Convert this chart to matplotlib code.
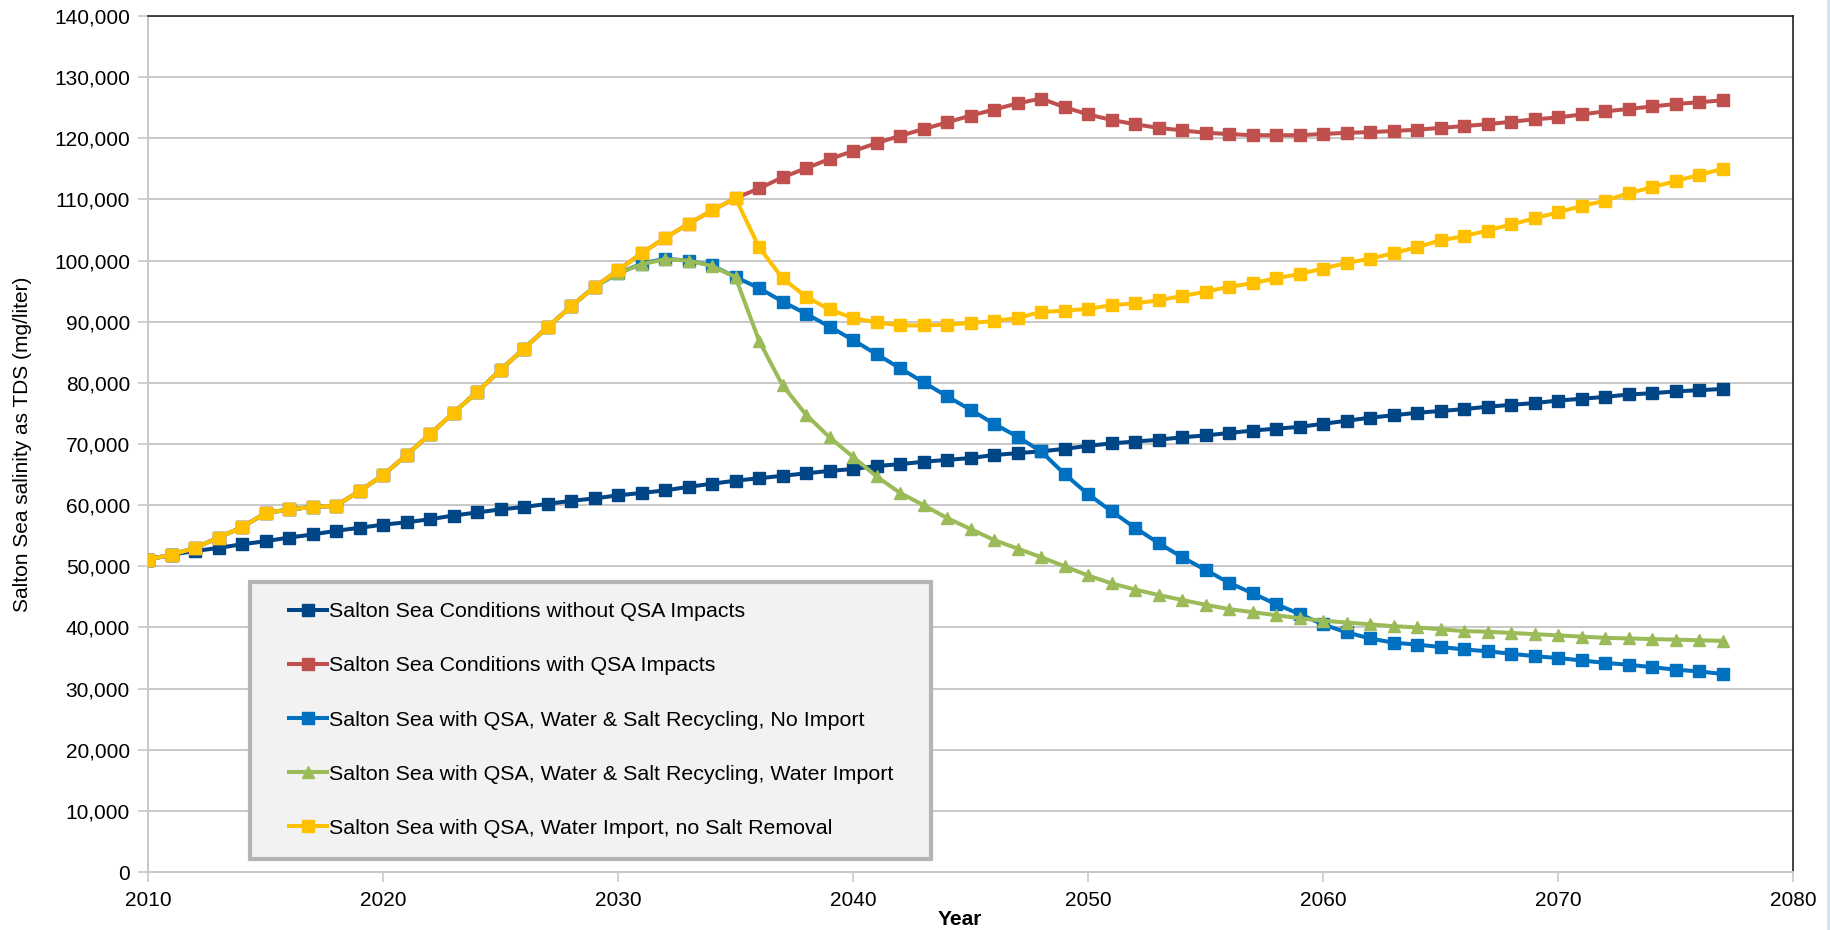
import numpy as np
import matplotlib
matplotlib.use("Agg")
import matplotlib.pyplot as plt
from matplotlib.patches import Rectangle
from matplotlib.ticker import FuncFormatter, MultipleLocator

plt.rcParams['font.family'] = ['Liberation Sans', 'DejaVu Sans']

years = np.arange(2010, 2078)

# salinity in thousands of mg/liter
no_qsa_k = [51.1, 51.9, 52.5, 53.0, 53.6, 54.1, 54.7, 55.2, 55.8, 56.3,
            56.8, 57.2, 57.7, 58.3, 58.8, 59.3, 59.7, 60.2, 60.7, 61.1,
            61.6, 62.0, 62.4, 63.0, 63.5, 64.0, 64.4, 64.8, 65.2, 65.6,
            65.9, 66.4, 66.7, 67.1, 67.4, 67.7, 68.2, 68.5, 68.8, 69.2,
            69.7, 70.1, 70.4, 70.7, 71.1, 71.4, 71.8, 72.2, 72.5, 72.8,
            73.3, 73.8, 74.3, 74.7, 75.1, 75.4, 75.7, 76.1, 76.4, 76.7,
            77.1, 77.4, 77.7, 78.1, 78.3, 78.6, 78.8, 79.0]

with_qsa_k = [51.1, 51.9, 53.0, 54.7, 56.4, 58.7, 59.3, 59.7, 59.9, 62.3,
              64.9, 68.2, 71.6, 75.1, 78.5, 82.1, 85.6, 89.1, 92.5, 95.7,
              98.4, 101.2, 103.7, 106.0, 108.2, 110.2, 111.8, 113.6, 115.1, 116.6,
              117.9, 119.2, 120.4, 121.5, 122.6, 123.7, 124.7, 125.7, 126.5, 125.1,
              123.9, 123.0, 122.3, 121.7, 121.3, 120.9, 120.7, 120.5, 120.5, 120.5,
              120.7, 120.9, 121.0, 121.2, 121.4, 121.7, 122.0, 122.3, 122.7, 123.1,
              123.4, 123.9, 124.4, 124.8, 125.2, 125.6, 125.9, 126.2]

recycle_no_import_k = [51.1, 51.9, 53.0, 54.7, 56.4, 58.7, 59.3, 59.7, 59.9, 62.3,
                       64.9, 68.2, 71.6, 75.1, 78.5, 82.1, 85.6, 89.1, 92.5, 95.7,
                       97.9, 99.5, 100.3, 100.0, 99.2, 97.3, 95.5, 93.3, 91.3, 89.2,
                       87.0, 84.7, 82.4, 80.1, 77.8, 75.6, 73.3, 71.2, 68.8, 65.1,
                       61.8, 59.0, 56.3, 53.8, 51.5, 49.4, 47.3, 45.6, 43.8, 42.2,
                       40.5, 39.2, 38.2, 37.5, 37.2, 36.8, 36.4, 36.1, 35.7, 35.3,
                       35.0, 34.6, 34.2, 33.9, 33.5, 33.1, 32.8, 32.4]

recycle_import_k = [51.1, 51.9, 53.0, 54.7, 56.4, 58.7, 59.3, 59.7, 59.9, 62.3,
                    64.9, 68.2, 71.6, 75.1, 78.5, 82.1, 85.6, 89.1, 92.5, 95.7,
                    97.9, 99.4, 100.2, 100.0, 99.1, 97.3, 86.9, 79.6, 74.8, 71.1,
                    67.9, 64.7, 62.0, 60.0, 57.9, 56.1, 54.3, 52.9, 51.5, 50.0,
                    48.5, 47.2, 46.2, 45.3, 44.5, 43.7, 43.0, 42.5, 42.0, 41.5,
                    41.1, 40.8, 40.5, 40.2, 40.0, 39.7, 39.4, 39.3, 39.1, 38.9,
                    38.7, 38.5, 38.3, 38.2, 38.1, 38.0, 37.9, 37.8]

import_no_salt_k = [51.1, 51.9, 53.0, 54.7, 56.4, 58.7, 59.3, 59.7, 59.9, 62.3,
                    64.9, 68.2, 71.6, 75.1, 78.5, 82.1, 85.6, 89.1, 92.5, 95.7,
                    98.4, 101.2, 103.7, 106.0, 108.2, 110.2, 102.2, 97.1, 94.1, 92.0,
                    90.6, 89.9, 89.4, 89.4, 89.5, 89.8, 90.1, 90.6, 91.6, 91.8,
                    92.1, 92.7, 93.0, 93.5, 94.2, 94.9, 95.7, 96.3, 97.1, 97.8,
                    98.7, 99.6, 100.3, 101.2, 102.2, 103.3, 104.0, 104.9, 105.9, 106.9,
                    107.9, 108.9, 109.8, 111.0, 112.0, 113.0, 114.0, 115.0]

labels = ["Salton Sea Conditions without QSA Impacts",
          "Salton Sea Conditions with QSA Impacts",
          "Salton Sea with QSA, Water & Salt Recycling, No Import",
          "Salton Sea with QSA, Water & Salt Recycling, Water Import",
          "Salton Sea with QSA, Water Import, no Salt Removal"]
series = [no_qsa_k, with_qsa_k, recycle_no_import_k, recycle_import_k, import_no_salt_k]
colors = ["#004586", "#c0504d", "#0070c0", "#9bbb59", "#ffc000"]
markers = ["s", "s", "s", "^", "s"]

fig = plt.figure(figsize=(18.3, 9.3), dpi=100)
ax = fig.add_axes([148/1830, 58/930, (1793-148)/1830, (872-16)/930])

for vals, lab, c, m in zip(series, labels, colors, markers):
    ms = 8.5 if m == "s" else 8
    ax.plot(years, np.array(vals) * 1000, color=c, lw=2.9, marker=m,
            markersize=ms, markeredgecolor=c, label=lab, zorder=3)

ax.set_xlim(2010, 2080)
ax.set_ylim(0, 140000)
ax.xaxis.set_major_locator(MultipleLocator(10))
ax.yaxis.set_major_locator(MultipleLocator(10000))
ax.yaxis.set_major_formatter(FuncFormatter(lambda v, p: f"{int(v):,}"))
ax.grid(axis='y', color="#c8c8c8", lw=1.4, zorder=0)
ax.set_axisbelow(True)

for s in ['top', 'right']:
    ax.spines[s].set_color("#222222")
    ax.spines[s].set_linewidth(1.2)
for s in ['left', 'bottom']:
    ax.spines[s].set_color("#c8c8c8")
    ax.spines[s].set_linewidth(1.4)
ax.tick_params(axis='both', colors="#c8c8c8", length=7, width=1.2,
               labelcolor="black", labelsize=15)
ax.tick_params(axis='y', pad=6)
ax.tick_params(axis='x', pad=7)

ax.set_ylabel("Salton Sea salinity as TDS (mg/liter)", fontsize=15, labelpad=15.5)
ax.set_xlabel("Year", fontsize=15, fontweight='bold', labelpad=0)
ax.xaxis.label.set_x(0.4936)

# legend box drawn by hand so the padding matches
ax.add_patch(Rectangle((0.062, 0.0152), 0.414, 0.3236, transform=ax.transAxes,
                       facecolor="#f2f2f2", edgecolor="#b4b4b4", lw=3, zorder=4))
leg = ax.legend(loc='upper left', bbox_to_anchor=(0.0857, 0.315), frameon=False,
                fontsize=15.4, handlelength=1.8, handletextpad=0.05,
                labelspacing=1.64, borderpad=0, borderaxespad=0, numpoints=1)
leg.set_zorder(5)

# thin light-blue strip at the right edge of the image
fig.patches.append(Rectangle((1827/1830, 0), 3/1830, 1, transform=fig.transFigure,
                             facecolor="#cfe3f3", edgecolor="none"))

fig.savefig("out.png", dpi=100)
